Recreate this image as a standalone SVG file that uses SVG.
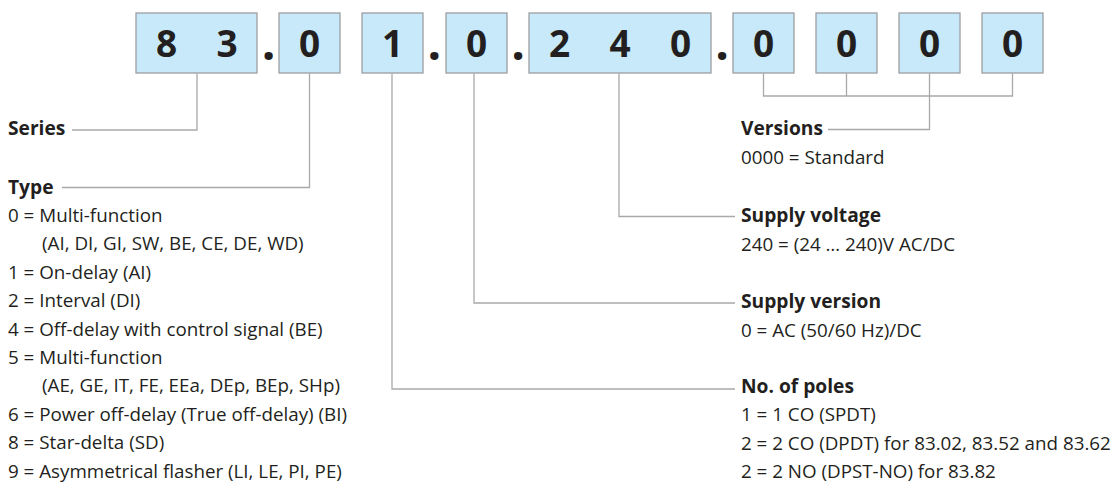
<svg xmlns="http://www.w3.org/2000/svg" width="1116" height="483" viewBox="0 0 1116 483">
<style>
.box{fill:#c7e9f9;stroke:#9d9fa2;stroke-width:1.3}
.dig{font-family:"Open Sans","Liberation Sans",Arial,sans-serif;font-weight:bold;font-size:37px;fill:#231f20;text-anchor:middle}
.dot{font-family:"Open Sans","Liberation Sans",Arial,sans-serif;font-weight:bold;font-size:48px;fill:#231f20;text-anchor:middle}
.h{font-family:"Open Sans","Liberation Sans",Arial,sans-serif;font-weight:bold;font-size:19.2px;fill:#231f20}
.t{font-family:"Open Sans","Liberation Sans",Arial,sans-serif;font-size:18.8px;fill:#231f20}
.c{fill:none;stroke:#a7a9ac;stroke-width:1.3}
</style>
<rect width="1116" height="483" fill="#ffffff"/>
<g id="code">
<g id="box-83"><rect class="box" x="136" y="13" width="121" height="60"/><text class="dig" x="166.5" y="57">8</text><text class="dig" x="227" y="57">3</text></g>
<text class="dot" x="268.7" y="59.5">.</text>
<g id="box-type"><rect class="box" x="279" y="13" width="61" height="60"/><text class="dig" x="309.5" y="57">0</text></g>
<g id="box-poles"><rect class="box" x="362" y="13" width="61" height="60"/><text class="dig" x="392.5" y="57">1</text></g>
<text class="dot" x="434.3" y="59.5">.</text>
<g id="box-supply-version"><rect class="box" x="446" y="13" width="61" height="60"/><text class="dig" x="476.5" y="57">0</text></g>
<text class="dot" x="518" y="59.5">.</text>
<g id="box-240"><rect class="box" x="529" y="13" width="182" height="60"/><text class="dig" x="559.5" y="57">2</text><text class="dig" x="620" y="57">4</text><text class="dig" x="680.5" y="57">0</text></g>
<text class="dot" x="722" y="59.5">.</text>
<g id="box-v1"><rect class="box" x="733" y="13" width="61" height="60"/><text class="dig" x="763.5" y="57">0</text></g>
<g id="box-v2"><rect class="box" x="816" y="13" width="61" height="60"/><text class="dig" x="846.5" y="57">0</text></g>
<g id="box-v3"><rect class="box" x="899" y="13" width="61" height="60"/><text class="dig" x="929.5" y="57">0</text></g>
<g id="box-v4"><rect class="box" x="982" y="13" width="61" height="60"/><text class="dig" x="1012.5" y="57">0</text></g>
</g>
<g id="connectors">
<path class="c" d="M197,73.6 V130 H72"/>
<path class="c" d="M309.5,73.6 V187.5 H62"/>
<path class="c" d="M392,73.6 V389 H735"/>
<path class="c" d="M474,73.6 V303 H735"/>
<path class="c" d="M619,73.6 V216.5 H735"/>
<path class="c" d="M763.5,73.6 V96 H1012.5 V73.6 M846.5,73.6 V96 M929.5,73.6 V129.5 H828"/>
</g>
<g id="series"><text class="h" x="8" y="135">Series</text></g>
<g id="type">
<text class="h" x="8" y="193.6">Type</text>
<text class="t" x="8" y="222">0 = Multi-function</text>
<text class="t" x="42" y="250.4">(AI, DI, GI, SW, BE, CE, DE, WD)</text>
<text class="t" x="8" y="278.8">1 = On-delay (AI)</text>
<text class="t" x="8" y="307.2">2 = Interval (DI)</text>
<text class="t" x="8" y="335.6">4 = Off-delay with control signal (BE)</text>
<text class="t" x="8" y="364">5 = Multi-function</text>
<text class="t" x="42" y="392.4">(AE, GE, IT, FE, EEa, DEp, BEp, SHp)</text>
<text class="t" x="8" y="420.8">6 = Power off-delay (True off-delay) (BI)</text>
<text class="t" x="8" y="449.2">8 = Star-delta (SD)</text>
<text class="t" x="8" y="477.6">9 = Asymmetrical flasher (LI, LE, PI, PE)</text>
</g>
<g id="versions">
<text class="h" x="741" y="135">Versions</text>
<text class="t" x="741" y="163.5">0000 = Standard</text>
</g>
<g id="supply-voltage">
<text class="h" x="741" y="222">Supply voltage</text>
<text class="t" x="741" y="250.5">240 = (24 … 240)V AC/DC</text>
</g>
<g id="supply-version">
<text class="h" x="741" y="308">Supply version</text>
<text class="t" x="741" y="336.5">0 = AC (50/60 Hz)/DC</text>
</g>
<g id="poles">
<text class="h" x="741" y="393">No. of poles</text>
<text class="t" x="741" y="421.3">1 = 1 CO (SPDT)</text>
<text class="t" x="741" y="449.6">2 = 2 CO (DPDT) for 83.02, 83.52 and 83.62</text>
<text class="t" x="741" y="477.6">2 = 2 NO (DPST-NO) for 83.82</text>
</g>
</svg>
